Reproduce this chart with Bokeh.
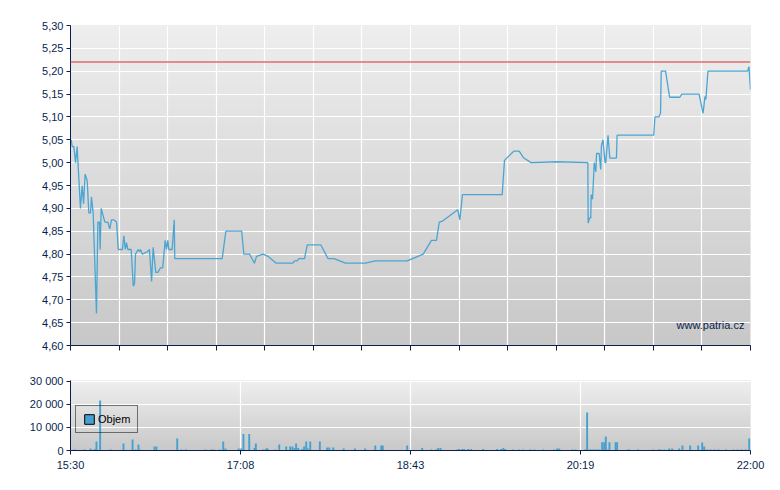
import numpy as np
from bokeh.plotting import figure
from bokeh.layouts import column
from bokeh.models import (FixedTicker, CustomJSTickFormatter, Span, Label,
                          Legend, LegendItem, Range1d)
from bokeh.embed import file_html
from bokeh.resources import INLINE

# ---------------- data ----------------
session_minutes = 390  # 15:30 -> 22:00
price_minutes = [
    0.4, 1.0, 1.9, 2.9, 3.8, 5.7, 6.7, 7.5, 8.4, 9.6,
    10.5, 11.5, 12.0, 13.0, 14.9, 15.7, 16.6, 17.0, 17.6, 19.7,
    21.4, 22.5, 23.5, 24.8, 26.4, 27.4, 29.8, 30.6, 31.4, 32.1,
    32.9, 34.8, 36.0, 36.7, 37.3, 38.8, 39.6, 40.1, 41.1, 44.0,
    45.3, 46.5, 47.4, 48.9, 50.1, 51.6, 52.9, 54.3, 55.1, 55.8,
    56.4, 58.3, 59.5, 59.8, 87.0, 89.1, 98.2, 99.4, 102.7, 105.5,
    106.7, 110.5, 113.2, 118.0, 127.5, 128.5, 130.0, 130.9, 134.2, 135.8,
    143.6, 147.7, 151.1, 157.7, 169.2, 174.9, 193.1, 202.3, 207.0, 209.9,
    211.5, 213.2, 222.1, 223.3, 224.8, 247.6, 248.9, 254.2, 257.3, 260.0,
    264.2, 279.1, 296.7, 296.9, 297.7, 298.4, 298.6, 299.4, 300.4, 301.3,
    301.7, 303.2, 304.1, 304.5, 305.4, 306.6, 307.0, 308.3, 309.3, 313.1,
    313.5, 334.5, 335.2, 337.4, 338.4, 338.8, 341.3, 343.6, 349.5, 350.6,
    360.5, 362.8, 363.9, 364.4, 365.6, 388.3, 389.1, 390.0,
]
price_values = [
    5.05, 5.035, 5.035, 5.00, 5.035, 4.90, 4.95, 4.91, 4.975, 4.96,
    4.89, 4.89, 4.925, 4.89, 4.67, 4.87, 4.87, 4.81, 4.90, 4.87,
    4.87, 4.855, 4.875, 4.875, 4.87, 4.81, 4.81, 4.84, 4.81, 4.825,
    4.81, 4.81, 4.73, 4.735, 4.80, 4.81, 4.805, 4.81, 4.80, 4.805,
    4.81, 4.74, 4.815, 4.76, 4.76, 4.77, 4.77, 4.83, 4.81, 4.83,
    4.81, 4.81, 4.875, 4.79, 4.79, 4.85, 4.85, 4.80, 4.80, 4.78,
    4.795, 4.80, 4.795, 4.78, 4.78, 4.785, 4.785, 4.79, 4.79, 4.82,
    4.82, 4.79, 4.79, 4.78, 4.78, 4.785, 4.785, 4.80, 4.83, 4.83,
    4.87, 4.872, 4.897, 4.875, 4.93, 4.93, 5.005, 5.025, 5.025, 5.01,
    5.00, 5.002, 5.00, 4.868, 4.879, 4.879, 4.93, 4.92, 5.00, 4.98,
    5.02, 5.02, 4.985, 5.037, 5.05, 5.00, 5.00, 5.06, 5.01, 5.01,
    5.06, 5.06, 5.10, 5.10, 5.108, 5.20, 5.20, 5.143, 5.143, 5.15,
    5.15, 5.108, 5.145, 5.138, 5.20, 5.20, 5.21, 5.16,
]
reference_price = 5.22

volume_minutes = [
    2.3, 8.0, 11.5, 13.9, 14.9, 17.0, 22.9, 30.4, 35.6, 37.3,
    39.0, 39.7, 48.2, 49.3, 61.2, 63.7, 66.1, 77.4, 80.9, 82.2,
    85.5, 87.6, 88.9, 96.5, 97.9, 99.2, 102.5, 105.5, 106.3, 110.5,
    112.2, 113.0, 117.4, 119.7, 123.7, 126.0, 127.3, 128.5, 129.4, 130.6,
    132.9, 134.0, 135.2, 136.1, 137.5, 143.0, 147.2, 148.4, 150.7, 156.7,
    163.1, 169.0, 174.8, 178.2, 179.1, 193.1, 201.7, 206.9, 209.7, 210.9,
    212.2, 221.8, 222.9, 224.7, 225.8, 228.1, 229.8, 236.7, 244.7, 247.0,
    248.2, 249.3, 253.9, 257.3, 259.6, 263.7, 266.0, 271.1, 277.4, 279.1,
    280.3, 287.7, 289.5, 295.2, 296.3, 297.7, 298.8, 299.9, 301.1, 302.2,
    303.4, 304.9, 306.1, 307.0, 308.0, 309.1, 312.6, 313.5, 319.6, 320.6,
    325.6, 334.2, 337.4, 338.4, 340.5, 343.4, 345.1, 349.1, 351.0, 355.4,
    360.0, 362.3, 363.4, 364.8, 367.1, 369.4, 371.6, 375.8, 380.3, 382.6,
    384.9, 387.2, 389.3,
]
volume_values = [
    400, 400, 900, 700, 3900, 21600, 400, 3000, 4800, 400,
    2600, 400, 1700, 1700, 5200, 400, 400, 400, 400, 400,
    400, 3900, 900, 900, 900, 7100, 7100, 1100, 3000, 400,
    900, 900, 400, 2600, 1700, 1700, 1700, 1100, 3000, 1100,
    700, 1700, 3900, 900, 3900, 3900, 1300, 1300, 1300, 900,
    900, 900, 2200, 2200, 2200, 2200, 1100, 400, 400, 1100,
    1100, 400, 700, 700, 700, 700, 700, 700, 700, 700,
    1100, 700, 400, 400, 400, 400, 400, 400, 400, 900,
    900, 400, 400, 400, 16400, 400, 400, 400, 400, 400,
    400, 3600, 3600, 6100, 400, 3600, 3600, 3600, 400, 400,
    400, 400, 400, 400, 400, 900, 900, 900, 2200, 2200,
    2200, 3500, 1700, 400, 400, 400, 400, 400, 400, 400,
    400, 400, 5200,
]

time_tick_minutes = [0, 97.5, 195, 292.5, 390]
time_tick_labels = ["15:30", "17:08", "18:43", "20:19", "22:00"]
price_ticks = [4.60, 4.65, 4.70, 4.75, 4.80, 4.85, 4.90, 4.95, 5.00,
               5.05, 5.10, 5.15, 5.20, 5.25, 5.30]
volume_ticks = [0, 10000, 20000, 30000]
legend_text = "Objem"
watermark_text = "www.patria.cz"

# ---------------- style ----------------
NAVY = "#0b1f4f"
LINE = "#4ba5d3"
BAR = "#45a2d0"
REF = "#e07c7c"
FONT = "Liberation Sans"
grid_ticks = [session_minutes * k / 14 for k in range(15)]


def gradient(top, bottom, n=64):
    vals = np.linspace(bottom, top, n).astype(np.uint8)
    img = np.empty((n, 1), dtype=np.uint32)
    view = img.view(dtype=np.uint8).reshape((n, 1, 4))
    view[:, 0, 0] = vals
    view[:, 0, 1] = vals
    view[:, 0, 2] = vals
    view[:, 0, 3] = 255
    return img


def style(p):
    p.outline_line_color = None
    p.background_fill_color = "#dddddd"
    p.border_fill_color = "white"
    for ax in (p.xaxis[0], p.yaxis[0]):
        ax.axis_line_color = NAVY
        ax.axis_line_width = 1
        ax.major_tick_line_color = NAVY
        ax.major_tick_in = 0
        ax.minor_tick_line_color = None
        ax.major_label_text_color = NAVY
        ax.major_label_text_font = FONT
        ax.major_label_text_font_size = "11px"
    p.yaxis.major_tick_out = 4
    p.yaxis.major_label_standoff = 3
    p.grid.grid_line_color = "white"
    p.grid.grid_line_width = 1.2


# ---------------- price chart ----------------
p1 = figure(width=772, height=365, x_range=Range1d(0, session_minutes),
            y_range=Range1d(4.60, 5.30), output_backend="svg",
            toolbar_location=None, min_border_left=70, min_border_right=22,
            min_border_top=25, min_border_bottom=20)
style(p1)
r = p1.image_rgba(image=[gradient(238, 200)], x=0, y=4.60, dw=session_minutes, dh=0.70)
r.level = "image"
p1.xaxis.ticker = FixedTicker(ticks=grid_ticks)
p1.xgrid.ticker = FixedTicker(ticks=grid_ticks)
p1.xaxis.major_tick_out = 5
p1.xaxis.formatter = CustomJSTickFormatter(code="return '';")
p1.yaxis.ticker = FixedTicker(ticks=price_ticks)
p1.ygrid.ticker = FixedTicker(ticks=price_ticks)
p1.yaxis.formatter = CustomJSTickFormatter(code="return tick.toFixed(2).replace('.', ',');")
p1.add_layout(Span(location=reference_price, dimension="width",
                   line_color=REF, line_width=2, line_alpha=0.85))
p1.line(price_minutes, price_values, line_color=LINE, line_width=1.3)
p1.add_layout(Label(x=386.5, y=4.644, text=watermark_text, text_align="right",
                    text_baseline="middle", text_font=FONT,
                    text_font_size="11px", text_color=NAVY))

# ---------------- volume chart ----------------
p2 = figure(width=772, height=115, x_range=Range1d(0, session_minutes),
            y_range=Range1d(0, 30300), output_backend="svg",
            toolbar_location=None, min_border_left=70, min_border_right=22,
            min_border_top=15, min_border_bottom=30)
style(p2)
r2 = p2.image_rgba(image=[gradient(239, 201)], x=0, y=0, dw=session_minutes, dh=30300)
r2.level = "image"
p2.xaxis.ticker = FixedTicker(ticks=time_tick_minutes)
p2.xgrid.ticker = FixedTicker(ticks=time_tick_minutes)
p2.xaxis.major_label_overrides = dict(zip(time_tick_minutes, time_tick_labels))
p2.xaxis.major_tick_out = 4
p2.xaxis.major_label_standoff = 4
p2.yaxis.ticker = FixedTicker(ticks=volume_ticks)
p2.ygrid.ticker = FixedTicker(ticks=volume_ticks)
p2.yaxis.formatter = CustomJSTickFormatter(
    code=r"return Math.round(tick).toString().replace(/\B(?=(\d{3})+(?!\d))/g, ' ');")
p2.vbar(x=volume_minutes, top=volume_values, width=1.1, bottom=0,
        fill_color=BAR, line_color=None)
legend_swatch = p2.vbar(x=[np.nan], top=[np.nan], width=1, fill_color=BAR,
                        line_color="black")
legend = Legend(items=[LegendItem(label=legend_text, renderers=[legend_swatch])],
                location=(5, 17), margin=0, padding=7, spacing=0,
                glyph_width=12, glyph_height=12, label_standoff=3,
                label_text_font=FONT, label_text_font_size="11px",
                label_text_color="black", background_fill_alpha=0,
                border_line_color="black", border_line_width=1)
p2.add_layout(legend)

layout = column(p1, p2, spacing=0)
open("out.html", "w").write(file_html(layout, INLINE))
